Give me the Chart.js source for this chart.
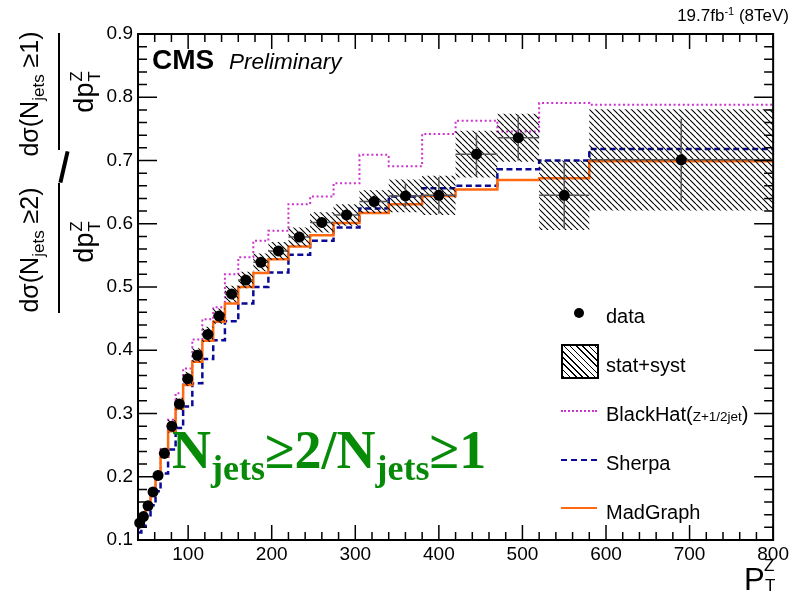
<!DOCTYPE html>
<html>
<head>
<meta charset="utf-8">
<script src="https://cdn.jsdelivr.net/npm/chart.js@4.4.1/dist/chart.umd.min.js"></script>
<style>
  html, body { margin: 0; padding: 0; background: #fff; }
  #wrap { position: relative; width: 792px; height: 593px; overflow: hidden;
          font-family: "Liberation Sans", Arial, Helvetica, sans-serif; color: #000; }
  #c { position: absolute; left: 0; top: 0; }
  .t { position: absolute; white-space: nowrap; line-height: 1; }
  .rot { transform: translate(-50%, -50%) rotate(-90deg); }
  .ss { display: inline-flex; flex-direction: column; vertical-align: middle; font-size: 0.62em; line-height: 1.05; margin-left: 1px; }
  sub.j { font-size: 0.68em; vertical-align: -0.32em; }
  .bar { position: absolute; background: #000; }
  .leg { position: absolute; font-size: 20px; line-height: 1; white-space: nowrap; }
  .green { position: absolute; white-space: nowrap; line-height: 1; color: #078a07;
           font: bold 54px "Liberation Serif", "Times New Roman", serif; }
  .green sub { font-size: 36px; vertical-align: -12px; line-height: 1; }
</style>
</head>
<body>
<div id="wrap">
  <canvas id="c" width="792" height="593"></canvas>

  <!-- luminosity / energy label -->
  <div class="t" style="right:3px; top:7px; font-size:17px;">19.7fb<sup style="font-size:11px; vertical-align:6px; line-height:0">-1</sup> (8TeV)</div>

  <!-- experiment label -->
  <div class="t" style="left:152px; top:46px; font-size:28px; font-weight:bold;">CMS</div>
  <div class="t" style="left:229px; top:51px; font-size:22.5px; font-style:italic;">Preliminary</div>

  <!-- y-axis title: ratio of the two differential cross sections -->
  <div class="t rot" style="left:32px; top:250px; font-size:25px;">d&sigma;(N<sub class="j">jets</sub> &ge;2)</div>
  <div class="bar" style="left:57.5px; top:183px; width:2.5px; height:130px;"></div>
  <div class="t rot" style="left:86px; top:242px; font-size:27px;">dp<span class="ss"><span>Z</span><span>T</span></span></div>
  <div class="bar" style="left:61.5px; top:151px; width:4px; height:32px; transform:rotate(13deg);"></div>
  <div class="t rot" style="left:32px; top:94px; font-size:25px;">d&sigma;(N<sub class="j">jets</sub> &ge;1)</div>
  <div class="bar" style="left:57.5px; top:33px; width:2.5px; height:117px;"></div>
  <div class="t rot" style="left:86px; top:92px; font-size:27px;">dp<span class="ss"><span>Z</span><span>T</span></span></div>

  <!-- x-axis title -->
  <div class="t" style="left:744px; top:564px; font-size:31px;">P</div>
  <div class="t" style="left:764px; top:557px; font-size:17px;">Z</div>
  <div class="t" style="left:765px; top:577px; font-size:17px;">T</div>

  <!-- jet multiplicity label -->
  <div class="green" style="left:172px; top:419px;">N<sub>jets</sub>&ge;2/N<sub>jets</sub>&ge;1</div>

  <!-- legend -->
  <div style="position:absolute; left:574px; top:308px; width:10px; height:10px; border-radius:50%; background:#000;"></div>
  <div class="leg" style="left:606px; top:306px;">data</div>
  <div style="position:absolute; left:561px; top:344px; width:34px; height:31px; border:2px solid #000;
       background: repeating-linear-gradient(45deg, #000 0 1.1px, transparent 1.1px 4.4px);"></div>
  <div class="leg" style="left:606px; top:355px;">stat+syst</div>
  <div style="position:absolute; left:561px; top:409.5px; width:36px; border-top:2px dotted #cc33cc;"></div>
  <div class="leg" style="left:606px; top:404px;">BlackHat(<span style="font-size:13.5px;">Z+1/2jet</span>)</div>
  <div style="position:absolute; left:561px; top:458.5px; width:36px; border-top:2.5px dashed #0a0a96;"></div>
  <div class="leg" style="left:606px; top:453px;">Sherpa</div>
  <div style="position:absolute; left:561px; top:507px; width:36px; border-top:2.5px solid #ff6a10;"></div>
  <div class="leg" style="left:606px; top:502px;">MadGraph</div>
</div>

<script>
// pT(Z) bin edges in GeV
const binEdges = [40, 44, 49, 55, 61, 67, 76, 85, 94, 105, 117, 130, 144, 160, 178, 196,
                  220, 246, 274, 305, 340, 380, 420, 470, 520, 580, 800];

// measured ratio (N_jets>=2)/(N_jets>=1) per bin
const dataValues = [0.127, 0.137, 0.154, 0.176, 0.202, 0.237, 0.280, 0.315, 0.355, 0.392,
                    0.425, 0.454, 0.489, 0.511, 0.539, 0.557, 0.579, 0.602, 0.614, 0.635,
                    0.644, 0.645, 0.710, 0.736, 0.645, 0.701];
// statistical uncertainty
const statErr = [0.002, 0.002, 0.002, 0.003, 0.003, 0.003, 0.003, 0.004, 0.004, 0.004,
                 0.004, 0.005, 0.005, 0.005, 0.006, 0.006, 0.007, 0.008, 0.009, 0.010,
                 0.020, 0.029, 0.034, 0.036, 0.053, 0.065];
// total (stat+syst) uncertainty
const totalErr = [0.006, 0.006, 0.007, 0.007, 0.008, 0.009, 0.010, 0.010, 0.011, 0.011,
                  0.012, 0.012, 0.013, 0.013, 0.014, 0.014, 0.015, 0.016, 0.017, 0.018,
                  0.026, 0.031, 0.037, 0.038, 0.055, 0.080];

// theory predictions per bin
const blackHat = [0.118, 0.135, 0.155, 0.178, 0.205, 0.243, 0.290, 0.332, 0.371, 0.417,
                  0.449, 0.468, 0.520, 0.547, 0.573, 0.589, 0.631, 0.643, 0.664, 0.709,
                  0.691, 0.742, 0.763, 0.746, 0.791, 0.788];
const sherpa = [0.112, 0.122, 0.136, 0.155, 0.177, 0.205, 0.243, 0.277, 0.311, 0.348,
                0.386, 0.416, 0.446, 0.474, 0.500, 0.523, 0.551, 0.573, 0.594, 0.624,
                0.643, 0.656, 0.660, 0.686, 0.700, 0.718];
const madGraph = [0.122, 0.133, 0.150, 0.172, 0.198, 0.232, 0.272, 0.308, 0.345, 0.382,
                  0.415, 0.445, 0.474, 0.500, 0.522, 0.544, 0.564, 0.582, 0.601, 0.617,
                  0.631, 0.644, 0.654, 0.669, 0.672, 0.699];

// axis tick labels
const xTickValues = [100, 200, 300, 400, 500, 600, 700, 800];
const yTickValues = [0.1, 0.2, 0.3, 0.4, 0.5, 0.6, 0.7, 0.8, 0.9];

const nBins = dataValues.length;
const binCenter = i => (binEdges[i] + binEdges[i + 1]) / 2;

// histogram-style step: value held from a bin's low edge to its high edge
function stepPoints(vals) {
  const pts = vals.map((v, i) => ({ x: binEdges[i], y: v }));
  pts.push({ x: binEdges[nBins], y: vals[nBins - 1] });
  return pts;
}

// diagonal hatch used for the uncertainty boxes
function hatchPattern() {
  const s = 6;
  const cv = document.createElement('canvas');
  cv.width = s; cv.height = s;
  const g = cv.getContext('2d');
  g.strokeStyle = '#000';
  g.lineWidth = 1.1;
  g.beginPath();
  for (let k = -1; k <= 1; k++) {
    g.moveTo(k * s, 0);
    g.lineTo(k * s + s, s);
  }
  g.stroke();
  return g.createPattern(cv, 'repeat');
}

const bandLow = stepPoints(dataValues.map((v, i) => v - totalErr[i]));
const bandHigh = stepPoints(dataValues.map((v, i) => v + totalErr[i]));

// error bars as broken polylines (null y breaks the line)
const vBars = [];
const hBars = [];
for (let i = 0; i < nBins; i++) {
  const c = binCenter(i);
  vBars.push({ x: c, y: dataValues[i] - statErr[i] }, { x: c, y: dataValues[i] + statErr[i] }, { x: c, y: null });
  hBars.push({ x: binEdges[i], y: dataValues[i] }, { x: binEdges[i + 1], y: dataValues[i] }, { x: binEdges[i + 1], y: null });
}
const points = dataValues.map((v, i) => ({ x: binCenter(i), y: v }));

// frame with inward ticks on all four sides
const frameTicks = {
  id: 'frameTicks',
  afterDatasetsDraw(chart) {
    const { ctx, chartArea: a, scales: { x, y } } = chart;
    ctx.save();
    ctx.strokeStyle = '#000';
    ctx.lineWidth = 1.5;
    ctx.beginPath();
    for (let v = 40; v <= 800; v += 20) {
      const px = x.getPixelForValue(v);
      const L = v % 100 === 0 ? 15 : 8;
      ctx.moveTo(px, a.bottom); ctx.lineTo(px, a.bottom - L);
      ctx.moveTo(px, a.top); ctx.lineTo(px, a.top + L);
    }
    for (let i = 0; i <= 40; i++) {
      const py = y.getPixelForValue(0.1 + i * 0.02);
      const L = i % 5 === 0 ? 19 : 9;
      ctx.moveTo(a.left, py); ctx.lineTo(a.left + L, py);
      ctx.moveTo(a.right, py); ctx.lineTo(a.right - L, py);
    }
    ctx.stroke();
    ctx.lineWidth = 2;
    ctx.strokeRect(a.left, a.top, a.right - a.left, a.bottom - a.top);
    ctx.restore();
  }
};

const lineBase = { pointRadius: 0, fill: false, tension: 0 };

new Chart(document.getElementById('c'), {
  type: 'line',
  data: {
    datasets: [
      Object.assign({ label: 'BlackHat', data: stepPoints(blackHat), stepped: true,
        borderColor: '#cc33cc', borderWidth: 2, borderDash: [2, 2.6], order: 5 }, lineBase),
      Object.assign({ label: 'Sherpa', data: stepPoints(sherpa), stepped: true,
        borderColor: '#0a0a96', borderWidth: 2.5, borderDash: [6, 3.5], order: 4 }, lineBase),
      Object.assign({ label: 'MadGraph', data: stepPoints(madGraph), stepped: true,
        borderColor: '#ff6a10', borderWidth: 2.5, order: 3 }, lineBase),
      Object.assign({ label: 'band low', data: bandLow, stepped: true,
        borderWidth: 0, borderColor: 'rgba(0,0,0,0)', order: 2 }, lineBase),
      { label: 'stat+syst', data: bandHigh, stepped: true, pointRadius: 0,
        borderWidth: 0, borderColor: 'rgba(0,0,0,0)', backgroundColor: hatchPattern(),
        fill: '-1', order: 2 },
      Object.assign({ label: 'stat', data: vBars, borderColor: '#555', borderWidth: 1.5,
        spanGaps: false, order: 1 }, lineBase),
      Object.assign({ label: 'bin width', data: hBars, borderColor: '#555', borderWidth: 1.5,
        spanGaps: false, order: 1 }, lineBase),
      { label: 'data', data: points, showLine: false, pointRadius: 5.5, pointHoverRadius: 5.5,
        pointBackgroundColor: '#000', pointBorderWidth: 0, pointBorderColor: '#000',
        clip: false, order: 0 }
    ]
  },
  options: {
    responsive: false,
    animation: false,
    devicePixelRatio: 1,
    events: [],
    layout: { padding: { left: 0, right: 16, top: 34, bottom: 0 } },
    plugins: { legend: { display: false }, tooltip: { enabled: false } },
    scales: {
      x: {
        type: 'linear', min: 40, max: 800,
        grid: { display: false, drawTicks: false },
        border: { display: false },
        afterFit: s => { s.height = 53; },
        afterBuildTicks: s => { s.ticks = xTickValues.map(v => ({ value: v })); },
        ticks: { autoSkip: false, maxRotation: 0, padding: 3, color: '#000',
                 font: { family: '"Liberation Sans", Arial, sans-serif', size: 19 } }
      },
      y: {
        type: 'linear', min: 0.1, max: 0.9,
        grid: { display: false, drawTicks: false },
        border: { display: false },
        afterFit: s => { s.width = 138; },
        afterBuildTicks: s => { s.ticks = yTickValues.map(v => ({ value: v })); },
        ticks: { autoSkip: false, padding: 5, color: '#000',
                 callback: v => Number(v).toFixed(1),
                 font: { family: '"Liberation Sans", Arial, sans-serif', size: 19 } }
      }
    }
  },
  plugins: [frameTicks]
});
</script>
</body>
</html>
